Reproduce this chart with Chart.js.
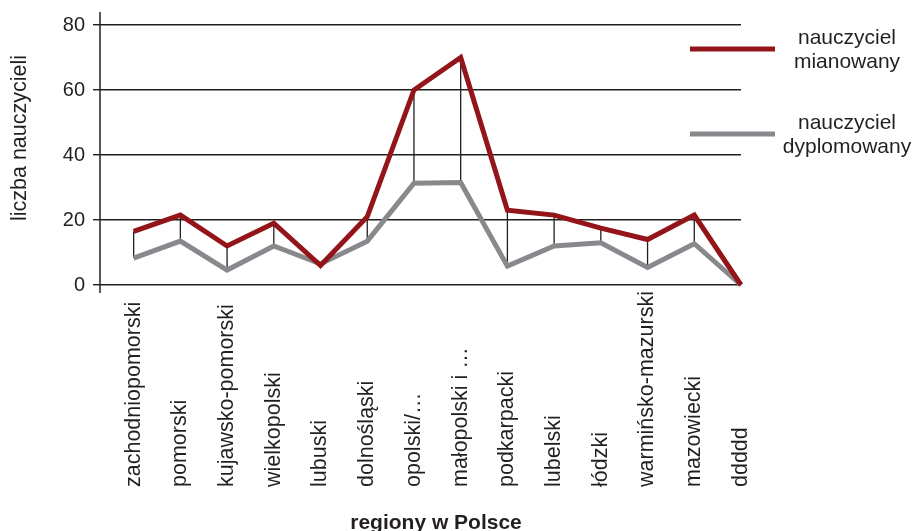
<!DOCTYPE html>
<html>
<head>
<meta charset="utf-8">
<script src="https://cdn.jsdelivr.net/npm/chart.js@4/dist/chart.umd.min.js"></script>
<style>
	html, body { margin: 0; background: #fff; }
</style>
</head>
<body>
<canvas id="chart" width="915" height="531"></canvas>
<script>
const categories = [
	"zachodniopomorski", "pomorski", "kujawsko-pomorski", "wielkopolski",
	"lubuski", "dolnośląski", "opolski/…", "małopolski i …", "podkarpacki",
	"lubelski", "łódzki", "warmińsko-mazurski", "mazowiecki", "ddddd",
];
const mianowany = [16.5, 21.5, 12, 19, 6, 21, 60, 70, 23, 21.5, 17.5, 14, 21.5, 0];
const dyplomowany = [8.3, 13.5, 4.6, 12, 6.5, 13.5, 31.3, 31.5, 5.8, 12, 13, 5.4, 12.7, 0];
const yTicks = [0, 20, 40, 60, 80];
const seriesNames = [["nauczyciel", "mianowany"], ["nauczyciel", "dyplomowany"]];
const xTitle = "regiony w Polsce";
const yTitle = "liczba nauczycieli";

const FONT = '"Liberation Sans", Arial, sans-serif';
const INK = "#231f20";
const RED = "#931419";
const GRAY = "#88898c";

// high-low lines, axis line, rotated labels, titles and the legend
const overlay = {
	id: "overlay",
	beforeDatasetsDraw(chart) {
		const { ctx, chartArea } = chart;
		const x = chart.scales.x;
		const y = chart.scales.y;
		ctx.save();
		ctx.strokeStyle = INK;
		ctx.lineWidth = 1.3;
		ctx.beginPath();
		categories.forEach((c, i) => {
			const px = x.getPixelForValue(i);
			ctx.moveTo(px, y.getPixelForValue(mianowany[i]));
			ctx.lineTo(px, y.getPixelForValue(dyplomowany[i]));
		});
		ctx.stroke();
		ctx.lineWidth = 1.5;
		ctx.beginPath();
		ctx.moveTo(chartArea.left, chartArea.top - 13);
		ctx.lineTo(chartArea.left, chartArea.bottom + 8);
		ctx.stroke();
		ctx.restore();
	},
	afterDraw(chart) {
		const { ctx } = chart;
		const x = chart.scales.x;
		ctx.save();
		ctx.fillStyle = INK;
		ctx.font = `21.5px ${FONT}`;
		ctx.textBaseline = "middle";
		ctx.textAlign = "left";
		categories.forEach((c, i) => {
			ctx.save();
			ctx.translate(x.getPixelForValue(i), 487);
			ctx.rotate(-Math.PI / 2);
			ctx.fillText(c, 0, 0);
			ctx.restore();
		});

		ctx.textAlign = "center";
		ctx.font = `21.5px ${FONT}`;
		ctx.save();
		ctx.translate(20, 138);
		ctx.rotate(-Math.PI / 2);
		ctx.fillText(yTitle, 0, 0);
		ctx.restore();

		ctx.font = `bold 21px ${FONT}`;
		ctx.textBaseline = "alphabetic";
		ctx.fillText(xTitle, 436, 529);

		// legend
		const colors = [RED, GRAY];
		const rows = [49, 134];
		ctx.font = `21px ${FONT}`;
		ctx.textBaseline = "middle";
		rows.forEach((ry, k) => {
			ctx.strokeStyle = colors[k];
			ctx.lineWidth = 5;
			ctx.beginPath();
			ctx.moveTo(690, ry);
			ctx.lineTo(775, ry);
			ctx.stroke();
			ctx.fillText(seriesNames[k][0], 847, ry - 11);
			ctx.fillText(seriesNames[k][1], 847, ry + 13);
		});
		ctx.restore();
	},
};

new Chart(document.getElementById("chart"), {
	type: "line",
	data: {
		datasets: [
			{
				label: seriesNames[0].join(" "),
				data: mianowany.map((v, i) => ({ x: i, y: v })),
				borderColor: RED,
				borderWidth: 5,
				pointRadius: 0,
				tension: 0,
				clip: false,
			},
			{
				label: seriesNames[1].join(" "),
				data: dyplomowany.map((v, i) => ({ x: i, y: v })),
				borderColor: GRAY,
				borderWidth: 5,
				pointRadius: 0,
				tension: 0,
				clip: false,
			},
		],
	},
	options: {
		responsive: false,
		animation: false,
		layout: { padding: { left: 0, top: 25, right: 174, bottom: 246 } },
		plugins: {
			legend: { display: false },
			tooltip: { enabled: false },
		},
		scales: {
			x: { type: "linear", min: -0.72, max: 13, display: false },
			y: {
				min: yTicks[0],
				max: yTicks[yTicks.length - 1],
				afterBuildTicks: (s) => {
					s.ticks = yTicks.map((v) => ({ value: v }));
				},
				ticks: { font: { size: 20, family: FONT }, color: INK, padding: 8 },
				grid: { color: INK, lineWidth: 1.4, tickLength: 7 },
				border: { display: false },
				afterFit: (s) => {
					s.width = 100;
				},
			},
		},
	},
	plugins: [overlay],
});
</script>
</body>
</html>
